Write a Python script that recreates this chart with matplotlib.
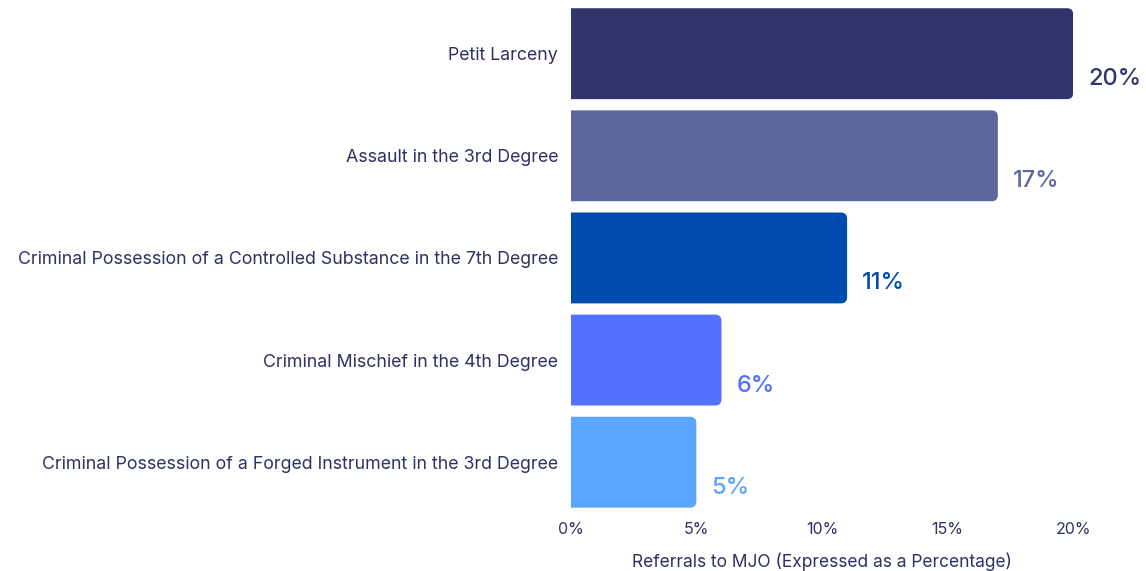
import matplotlib.pyplot as plt
from matplotlib.patches import FancyBboxPatch

# data
categories = [
    "Petit Larceny",
    "Assault in the 3rd Degree",
    "Criminal Possession of a Controlled Substance in the 7th Degree",
    "Criminal Mischief in the 4th Degree",
    "Criminal Possession of a Forged Instrument in the 3rd Degree",
]
values = [20, 17, 11, 6, 5]
colors = ["#31356b", "#5e679d", "#004bae", "#5271ff", "#5ba4ff"]
xticks = [0, 5, 10, 15, 20]

text_color = "#2e3163"
plt.rcParams["font.family"] = ["Inter", "DejaVu Sans"]

fig = plt.figure(figsize=(11.46, 5.71), dpi=100)
ax = fig.add_axes([0.498, 0.110, 0.4385, 0.8765])

pos = list(range(len(categories)))
bars = ax.barh(pos, values, height=0.89, color=colors)

# swap the plain bars for ones with rounded right corners
for bar, c in zip(bars, colors):
    x, y = bar.get_x(), bar.get_y()
    w, h = bar.get_width(), bar.get_height()
    bar.remove()
    rb = FancyBboxPatch((x - 1, y), w + 1, h,
                        boxstyle="round,pad=0,rounding_size=0.25",
                        mutation_aspect=0.245, facecolor=c, edgecolor="none")
    rb.set_clip_on(True)
    ax.add_patch(rb)

# value labels, right of bar and a little below centre
for p, v, c in zip(pos, values, colors):
    ax.text(v + 0.6, p + 0.25, f"{v}%", color=c, fontsize=17,
            fontweight="medium", ha="left", va="center", clip_on=False)

ax.set_xlim(0, 20)
ax.set_ylim(4.45, -0.45)
ax.set_yticks(pos)
ax.set_yticklabels(categories, fontsize=12.8, color=text_color)
for lbl in ax.get_yticklabels():
    lbl.set_y(lbl.get_position()[1])
    lbl.set_va("center_baseline")
ax.set_xticks(xticks)
ax.set_xticklabels([f"{t}%" for t in xticks], fontsize=11.5, color=text_color)
ax.tick_params(axis="both", length=0)
ax.tick_params(axis="y", pad=9)
ax.tick_params(axis="x", pad=10)
ax.set_xlabel("Referrals to MJO (Expressed as a Percentage)", fontsize=12.5,
              color=text_color, labelpad=11)
for s in ax.spines.values():
    s.set_visible(False)

fig.savefig("out.png", dpi=100)
